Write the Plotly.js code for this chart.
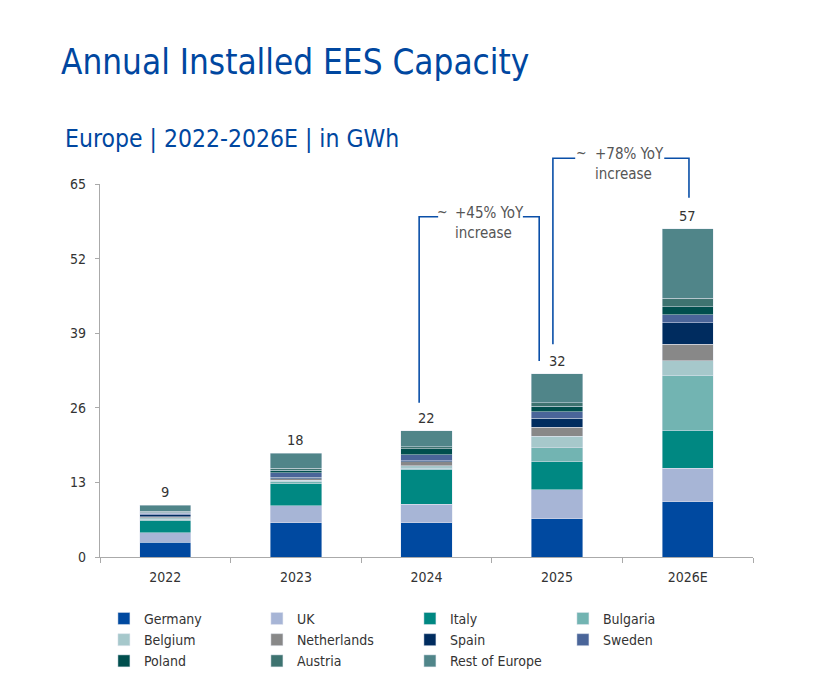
<!DOCTYPE html>
<html>
<head>
<meta charset="utf-8">
<script src="https://cdn.plot.ly/plotly-3.0.1.min.js"></script>
<style>html,body{margin:0;padding:0;background:#fff;}#chart{width:816px;height:697px;}</style>
</head>
<body>
<div id="chart"></div>
<script>
// ---- data ----
const years = ["2022", "2023", "2024", "2025", "2026E"];
const germany     = [2.55, 6.0, 6.0, 6.7, 9.6];
const uk          = [1.7, 2.9, 3.2, 5.0, 5.9];
const italy       = [2.05, 3.9, 6.1, 4.9, 6.6];
const bulgaria    = [0.25, 0.3, 0.2, 2.45, 9.6];
const belgium     = [0.25, 0.3, 0.4, 1.95, 2.5];
const netherlands = [0.2, 0.25, 0.7, 1.65, 2.9];
const spain       = [0.4, 0.25, 0.2, 1.55, 3.7];
const sweden      = [0.2, 0.8, 1.0, 1.1, 1.4];
const poland      = [0.2, 0.4, 1.1, 1.0, 1.4];
const austria     = [0.15, 0.35, 0.3, 0.6, 1.5];
const restOfEurope= [1.05, 2.6, 2.8, 5.0, 12.1];
const totalLabels = ["9", "18", "22", "32", "57"];
const yTicks = [0, 13, 26, 39, 52, 65];
const growthLabels = ["+45% YoY<br>increase", "+78% YoY<br>increase"];

const seriesNames = ["Germany","UK","Italy","Bulgaria","Belgium","Netherlands","Spain","Sweden","Poland","Austria","Rest of Europe"];
const seriesValues = [germany, uk, italy, bulgaria, belgium, netherlands, spain, sweden, poland, austria, restOfEurope];
const seriesColors = ["#0049a0","#a7b5d6","#008882","#72b4b2","#a6c8cb","#888888","#002c5f","#4a6599","#004f4e","#3e7370","#508589"];

const FONT = "'DejaVu Sans Condensed', 'Liberation Sans Narrow', Roboto, sans-serif";
const BLUE = "#0047a0";
const LINE = "#0a4fa8";

const traces = seriesNames.map((n, i) => ({
  type: "bar",
  name: n,
  x: years,
  y: seriesValues[i],
  marker: {color: seriesColors[i], line: {color: "rgba(225,230,240,0.8)", width: 0.6}},
  hoverinfo: "name+y"
}));

const totals = years.map((_, j) => seriesValues.reduce((s, arr) => s + arr[j], 0));

// plot geometry (pixels) for decorations
const L = 100, T = 184, W = 652.7, H = 373;
const px = x => (x - L) / W;
const py = y => (T + H - y) / H;

const annotations = years.map((yr, j) => ({
  x: j, y: totals[j], xref: "x", yref: "y",
  text: totalLabels[j], showarrow: false, yanchor: "bottom", yshift: 3,
  font: {family: FONT, size: 14.5, color: "#333"}
}));

annotations.push({
  xref: "paper", yref: "paper", x: px(63), y: py(139), xanchor: "left", yanchor: "middle",
  text: "Europe | 2022-2026E | in GWh", showarrow: false,
  font: {family: FONT, size: 24.5, color: BLUE}
});

// bracket texts
const brackets = [
  {x1: 419, y1: 402.7, x2: 539, y2: 361, top: 216.7, tl: 438, tr: 522.7, tx: 452.7, tildeX: 442},
  {x1: 552.7, y1: 344.3, x2: 688.7, y2: 197.7, top: 158.3, tl: 575, tr: 664, tx: 592.3, tildeX: 581}
];
const shapes = [];
brackets.forEach((b, k) => {
  shapes.push({type: "path", xref: "paper", yref: "paper",
    path: `M${px(b.x1)},${py(b.y1)} L${px(b.x1)},${py(b.top)} L${px(b.tl)},${py(b.top)}`,
    line: {color: LINE, width: 1.6}});
  shapes.push({type: "path", xref: "paper", yref: "paper",
    path: `M${px(b.tr)},${py(b.top)} L${px(b.x2)},${py(b.top)} L${px(b.x2)},${py(b.y2)}`,
    line: {color: LINE, width: 1.6}});
  annotations.push({xref: "paper", yref: "paper", x: px(b.tx), y: py(b.top - 15), xanchor: "left", yanchor: "top",
    text: growthLabels[k], align: "left", showarrow: false,
    font: {family: FONT, size: 15, color: "#555"}});
  annotations.push({xref: "paper", yref: "paper", x: px(b.tildeX), y: py(b.top - 5), xanchor: "center", yanchor: "middle",
    text: "~", showarrow: false, font: {family: FONT, size: 14, color: "#555"}});
});

const layout = {
  width: 816, height: 697,
  margin: {l: L, r: 816 - L - W, t: T, b: 697 - T - H, pad: 0},
  paper_bgcolor: "#fff", plot_bgcolor: "#fff",
  barmode: "stack", bargap: 0.607,
  title: {text: "Annual Installed EES Capacity", xref: "container", yref: "container",
    x: 61/816, xanchor: "left", y: 1 - 62/697, yanchor: "middle",
    font: {family: FONT, size: 34.8, color: BLUE}},
  font: {family: FONT, size: 14, color: "#333"},
  xaxis: {type: "category", range: [-0.5, 4.5], tickson: "boundaries", ticks: "outside", ticklen: 5,
    tickcolor: "#aaa", showline: true, linecolor: "#aaa", linewidth: 1.2, showgrid: false,
    tickfont: {family: FONT, size: 14, color: "#333"}, ticklabelstandoff: 7, fixedrange: true},
  yaxis: {range: [0, 65], tickvals: yTicks, ticks: "outside", ticklen: 4, tickcolor: "#aaa",
    showline: true, linecolor: "#aaa", linewidth: 1.2, showgrid: false, zeroline: false,
    tickfont: {family: FONT, size: 14, color: "#333"}, ticklabelstandoff: 6, fixedrange: true},
  legend: {orientation: "h", x: 0.006, xanchor: "left", y: -0.123, yanchor: "top",
    traceorder: "normal", entrywidth: 108, entrywidthmode: "pixels",
    font: {family: FONT, size: 14, color: "#333"}},
  annotations: annotations,
  shapes: shapes,
  showlegend: true
};

Plotly.newPlot("chart", traces, layout, {displayModeBar: false, staticPlot: true});
</script>
</body>
</html>
